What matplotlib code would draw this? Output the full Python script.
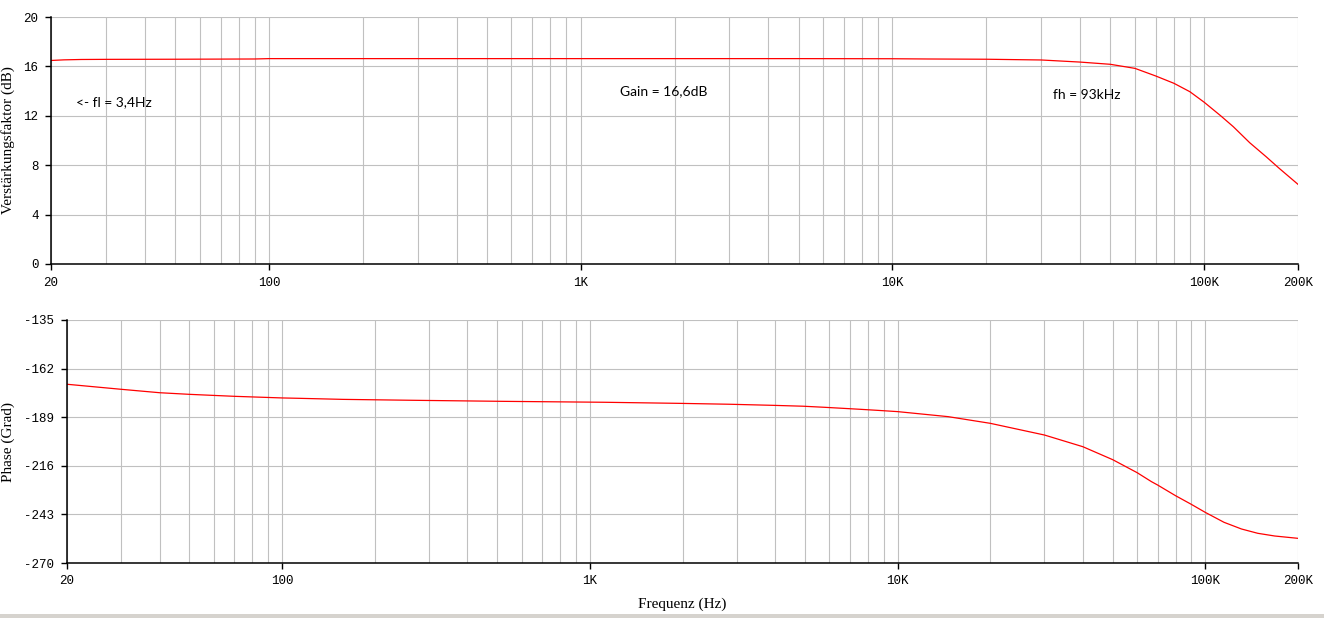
import numpy as np
import matplotlib
matplotlib.use('Agg')
import matplotlib.pyplot as plt
from matplotlib.patches import Rectangle
from matplotlib.ticker import FixedLocator, NullFormatter

# Amplitudengang
freq_gain = [20, 22, 25, 30, 50, 90, 100, 1000, 5000, 10000, 13000, 20000, 30000,
             40000, 50000, 60000, 70000, 80000, 90000, 100000, 113000, 124000, 140000,
             158000, 174000, 200000]
gain_db = [16.48, 16.53, 16.56, 16.57, 16.58, 16.6, 16.63, 16.63, 16.63, 16.62, 16.6, 16.58, 16.52,
           16.35, 16.17, 15.84, 15.22, 14.63, 13.95, 13.1, 12.0, 11.12, 9.82,
           8.69, 7.75, 6.45]

# Phasengang
freq_phase = [20, 30, 40, 50, 60, 70, 100, 113, 158, 264, 528, 1110, 1940, 2830, 3920, 4930,
              5790, 6690, 7540, 8620, 10000, 14600, 20000, 30000, 40000, 50000, 60000,
              66800, 70000, 80000, 90000, 100000, 115000, 131000, 148000, 168000, 200000]
phase_deg = [-170.7, -173.5, -175.4, -176.3, -176.9, -177.4, -178.3, -178.5, -179.1, -179.6,
             -180.2, -180.7, -181.3, -181.8, -182.4, -182.9, -183.5, -184.1, -184.6, -185.2,
             -185.9, -188.7, -192.4, -198.9, -205.4, -212.6, -219.8, -224.8, -226.7,
             -232.6, -237.4, -241.9, -247.4, -251.1, -253.5, -255.0, -256.3]

xticks = [20, 100, 1000, 10000, 100000, 200000]
xticklabels = ['20', '100', '1K', '10K', '100K', '200K']
gain_ticks = [0, 4, 8, 12, 16, 20]
phase_ticks = [-270, -243, -216, -189, -162, -135]

grid_pos = [m * 10**e for e in range(1, 6) for m in range(1, 10)]
grid_pos = [g for g in grid_pos if 20 <= g <= 200000] + [200000]

mono = 'Liberation Mono'
serif = 'Liberation Serif'

fig = plt.figure(figsize=(13.24, 6.18), dpi=100)
ax1 = fig.add_axes([51/1324, 1-264/618, 1247/1324, 247/618])
ax2 = fig.add_axes([67/1324, 1-563/618, 1231/1324, 243/618])


def style(ax, yticks):
    ax.set_xscale('log')
    ax.set_xlim(20, 200000)
    ax.set_ylim(yticks[0], yticks[-1])
    ax.xaxis.set_major_locator(FixedLocator(xticks))
    ax.set_xticklabels(xticklabels, fontfamily=mono, fontsize=9)
    ax.xaxis.set_minor_locator(FixedLocator(grid_pos))
    ax.xaxis.set_minor_formatter(NullFormatter())
    ax.set_yticks(yticks)
    ax.set_yticklabels([str(t) for t in yticks], fontfamily=mono, fontsize=9)
    ax.tick_params(which='major', direction='out', length=4, width=1, color='black', pad=5)
    ax.tick_params(which='minor', length=0)
    ax.grid(True, which='both', color='#c0c0c0', linewidth=0.8)
    ax.set_axisbelow(True)
    for s in ['top', 'right']:
        ax.spines[s].set_visible(False)
    for s in ['left', 'bottom']:
        ax.spines[s].set_linewidth(1.1)
        ax.spines[s].set_color('black')


style(ax1, gain_ticks)
ax1.plot(freq_gain, gain_db, color='red', linewidth=0.9)
ax1.set_ylabel('Verstärkungsfaktor (dB)', fontfamily=serif, fontsize=11)
ax1.yaxis.set_label_coords(-0.029, 0.5)
ax1.text(24, 13.1, '<- fl = 3,4Hz', fontfamily='Lato', fontsize=10, va='center')
ax1.text(1334, 14.0, 'Gain = 16,6dB', fontfamily='Lato', fontsize=10, va='center')
ax1.text(32800, 13.7, 'fh = 93kHz', fontfamily='Lato', fontsize=10, va='center')

style(ax2, phase_ticks)
ax2.plot(freq_phase, phase_deg, color='red', linewidth=0.9)
ax2.set_ylabel('Phase (Grad)', fontfamily=serif, fontsize=11)
ax2.yaxis.set_label_coords(-0.042, 0.5)
ax2.set_xlabel('Frequenz (Hz)', fontfamily=serif, fontsize=11)
ax2.xaxis.set_label_coords(0.5, -0.14)

fig.patches.append(Rectangle((0, 0), 1, 4/618, transform=fig.transFigure,
                             facecolor='#d6d3ce', edgecolor='none'))

fig.savefig('out.png', dpi=100)
